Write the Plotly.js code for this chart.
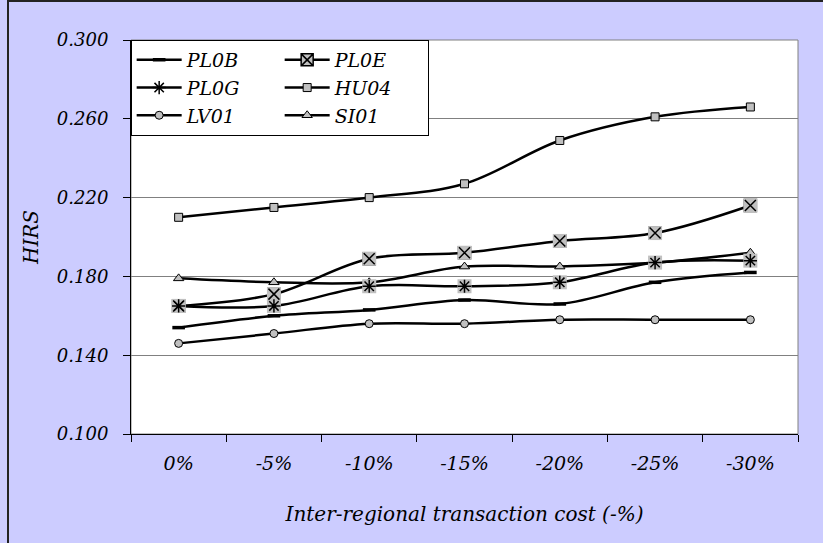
<!DOCTYPE html>
<html>
<head>
<meta charset="utf-8">
<script src="https://cdn.plot.ly/plotly-3.0.1.min.js"></script>
<style>html,body{margin:0;padding:0;background:#fff;}#chart{width:823px;height:543px;}</style>
</head>
<body>
<div id="chart"></div>
<script>
var categories = ['0%', '-5%', '-10%', '-15%', '-20%', '-25%', '-30%'];
var PL0B = [0.154, 0.160, 0.163, 0.168, 0.166, 0.177, 0.182];
var PL0E = [0.165, 0.171, 0.189, 0.192, 0.198, 0.202, 0.216];
var PL0G = [0.165, 0.165, 0.175, 0.175, 0.177, 0.187, 0.188];
var HU04 = [0.210, 0.215, 0.220, 0.227, 0.249, 0.261, 0.266];
var LV01 = [0.146, 0.151, 0.156, 0.156, 0.158, 0.158, 0.158];
var SI01 = [0.179, 0.177, 0.177, 0.185, 0.185, 0.187, 0.192];
var yTickVals = [0.100, 0.140, 0.180, 0.220, 0.260, 0.300];

var GRAY = '#c0c0c0';
var LINE = {color: '#000', width: 2.5, shape: 'spline', smoothing: 1};

function lineTrace(name, y, marker) {
  return {x: categories, y: y, name: name, type: 'scatter',
          mode: 'lines+markers',
          line: LINE, marker: marker, cliponaxis: false};
}
function overlay(y, marker) {
  return {x: categories, y: y, type: 'scatter', mode: 'markers',
          showlegend: false, hoverinfo: 'skip', marker: marker, cliponaxis: false};
}

var traces = [
  lineTrace('PL0B', PL0B, {symbol: 'line-ew-open', size: 9, color: '#000', line: {color: '#000', width: 3.5}}),
  lineTrace('PL0E', PL0E, {symbol: 'square-x', size: 12, color: GRAY, line: {color: '#000', width: 1.5}}),
  lineTrace('PL0G', PL0G, {symbol: 'asterisk-open', size: 11, color: '#000', line: {color: '#000', width: 1.5}}),
  lineTrace('HU04', HU04, {symbol: 'square', size: 8, color: GRAY, line: {color: '#000', width: 1}}),
  lineTrace('LV01', LV01, {symbol: 'circle', size: 8, color: GRAY, line: {color: '#000', width: 1}}),
  lineTrace('SI01', SI01, {symbol: 'triangle-up', size: 9, color: GRAY, line: {color: '#000', width: 1}}),
  overlay(PL0E, {symbol: 'square', size: 14, color: GRAY, line: {width: 0}}),
  overlay(PL0G, {symbol: 'square', size: 14, color: GRAY, line: {width: 0}}),
  overlay(PL0E, {symbol: 'x-thin-open', size: 11, color: '#000', line: {color: '#000', width: 1.5}}),
  overlay(PL0G, {symbol: 'asterisk-open', size: 11, color: '#000', line: {color: '#000', width: 1.5}})
];

var FAMILY = '"DejaVu Serif", "Liberation Serif", "Times New Roman", serif';
var TICKFONT = {family: FAMILY, style: 'italic', size: 18, color: '#000'};
var TITLEFONT = {family: FAMILY, style: 'italic', size: 20, color: '#000'};

var layout = {
  width: 823, height: 543,
  margin: {l: 131, r: 25, t: 40, b: 109, pad: 0},
  paper_bgcolor: '#ccccff',
  plot_bgcolor: '#ffffff',
  font: TICKFONT,
  showlegend: true,
  legend: {
    x: -0.0005, xanchor: 'left', y: 1.0, yanchor: 'top',
    orientation: 'h', entrywidth: 88, entrywidthmode: 'pixels', itemwidth: 45,
    bgcolor: '#ffffff', bordercolor: '#000', borderwidth: 1,
    font: {family: FAMILY, style: 'italic', size: 19, color: '#000'},
    traceorder: 'normal'
  },
  xaxis: {
    type: 'category', range: [-0.5, 6.5], tickson: 'boundaries',
    ticks: 'outside', ticklen: 7, tickcolor: '#000', tickwidth: 1,
    showline: true, linecolor: '#000', linewidth: 1, showgrid: false, zeroline: false,
    ticklabelstandoff: 12, tickfont: {family: FAMILY, style: 'italic', size: 19, color: '#000'},
    title: {text: 'Inter-regional transaction cost (-%)', font: TITLEFONT, standoff: 34}
  },
  yaxis: {
    range: [0.1, 0.3], tickvals: yTickVals, tickformat: '.3f',
    ticks: 'outside', ticklen: 7, tickcolor: '#000', tickwidth: 1,
    showline: true, linecolor: '#000', linewidth: 1,
    showgrid: true, gridcolor: '#808080', gridwidth: 1, zeroline: false,
    ticklabelstandoff: 11,
    title: {text: 'HIRS', font: TITLEFONT, standoff: 12}
  },
  shapes: [
    {type: 'rect', xref: 'paper', yref: 'paper', x0: 0, x1: 1, y0: 0, y1: 1,
     line: {color: '#808080', width: 1}, layer: 'below'},
    {type: 'rect', xref: 'paper', yref: 'paper', x0: (8 - 131) / 667, x1: 2, y0: -1, y1: 1 + 39 / 394,
     line: {color: '#222', width: 2}, layer: 'below'}
  ]
};

Plotly.newPlot('chart', traces, layout, {displayModeBar: false, staticPlot: true});
</script>
</body>
</html>
